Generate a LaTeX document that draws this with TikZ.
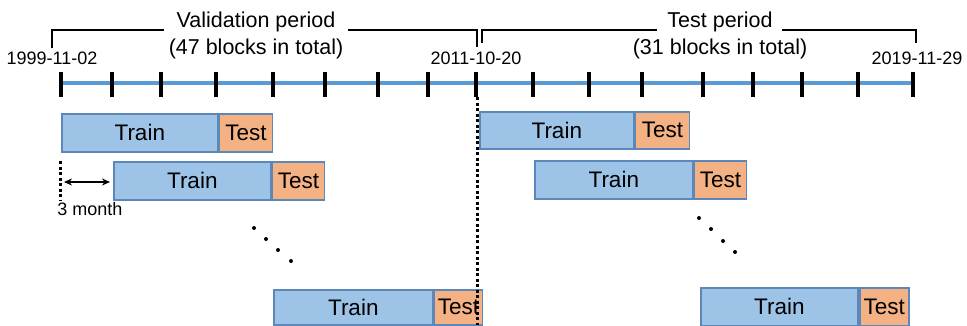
\documentclass[tikz,border=0pt]{standalone}
\usepackage{fontspec}
\setmainfont{Liberation Sans}
\usetikzlibrary{arrows.meta}
\definecolor{trainfill}{HTML}{9DC3E6}
\definecolor{testfill}{HTML}{F4B183}
\definecolor{boxline}{HTML}{5B88B8}
\definecolor{lineblue}{HTML}{5B9BD5}
\begin{document}
\begin{tikzpicture}[x=1pt,y=-1pt,
  trainbox/.style={draw=boxline, fill=trainfill, line width=1.6pt, inner sep=0pt,
    minimum height=38pt, font=\fontsize{22.5}{22.5}\selectfont, anchor=north west},
  testbox/.style={draw=boxline, fill=testfill, line width=1.6pt, inner sep=0pt,
    minimum height=38pt, font=\fontsize{22.5}{22.5}\selectfont, anchor=north west},
  datelab/.style={font=\fontsize{18}{18}\selectfont, inner sep=0pt},
  periodlab/.style={font=\fontsize{21.5}{21.5}\selectfont, inner sep=0pt},
  tick/.style={line width=3.8pt, black},
  bracket/.style={line width=2pt, black},
  dotline/.style={line width=3pt, dash pattern=on 3pt off 2.5pt, black},
  dotmark/.style={circle, fill=black, inner sep=0pt, minimum size=4pt}
]
\useasboundingbox (0,0) rectangle (967,325);

% timeline
\draw[lineblue, line width=4.5pt] (61,83) -- (913,83);
\foreach \x in {61,112,161,216,273,325,378,428,476,533,589,642,703,753,802,858,913}
  \draw[tick] (\x,72) -- (\x,97);

% period labels
\node[periodlab] (vp) at (256,22) {Validation period};
\node[periodlab] (vb) at (256,49) {(47 blocks in total)};
\node[periodlab] (tp) at (720,22) {Test period};
\node[periodlab] (tb) at (720,49) {(31 blocks in total)};

% brackets
\draw[bracket] (52,48) -- (52,30) -- (164,30);
\draw[bracket] (348,30) -- (477,30) -- (477,47);
\draw[bracket] (482,43) -- (482,30) -- (657,30);
\draw[bracket] (782,30) -- (916,30) -- (916,43);

% dates
\node[datelab] (d1) at (52,58) {1999-11-02};
\node[datelab] (d2) at (476,58) {2011-10-20};
\node[datelab] (d3) at (917,58) {2019-11-29};

% validation blocks
\node[trainbox, minimum width=156pt] (v1) at (61,113) {Train};
\node[testbox, minimum width=53pt] (v1t) at (v1.north east) {Test};
\node[trainbox, minimum width=157pt] (v2) at (113,161) {Train};
\node[testbox, minimum width=52pt] (v2t) at (v2.north east) {Test};
\node[trainbox, minimum width=159pt, minimum height=35pt] (v3) at (273,289) {Train};
\node[testbox, minimum width=48pt, minimum height=35pt] (v3t) at (v3.north east) {Test};

% test blocks
\node[trainbox, minimum width=154pt, minimum height=37pt] (s1) at (479,111) {Train};
\node[testbox, minimum width=54pt, minimum height=37pt] (s1t) at (s1.north east) {Test};
\node[trainbox, minimum width=158pt] (s2) at (534,160) {Train};
\node[testbox, minimum width=52pt] (s2t) at (s2.north east) {Test};
\node[trainbox, minimum width=157pt, minimum height=38pt] (s3) at (700,287) {Train};
\node[testbox, minimum width=49pt, minimum height=38pt] (s3t) at (859,287) {Test};

% dots
\foreach \p/\n in {{(254,228)}/a1,{(266,239)}/a2,{(278,250)}/a3,{(291,261)}/a4,
                   {(699,218)}/b1,{(711,229)}/b2,{(723,241)}/b3,{(735,252)}/b4}
  \node[dotmark] (\n) at \p {};

% dotted lines
\coordinate (l1) at (60,161);
\coordinate (l2) at (60,200);
\draw[dotline] (l1) -- (l2);
\coordinate (r1) at (477,97);
\coordinate (r2) at (477,325);
\draw[dotline] (r1) -- (r2);

% 3 month arrow
\coordinate (m3) at (64,182);
\coordinate (m3e) at (110,182);
\draw[line width=1.6pt, {Stealth[length=8pt,width=7pt]}-{Stealth[length=8pt,width=7pt]}] (m3) -- (m3e);
\node[font=\fontsize{18}{18}\selectfont, inner sep=0pt] (mon) at (90,209) {3 month};
\end{tikzpicture}
\end{document}
